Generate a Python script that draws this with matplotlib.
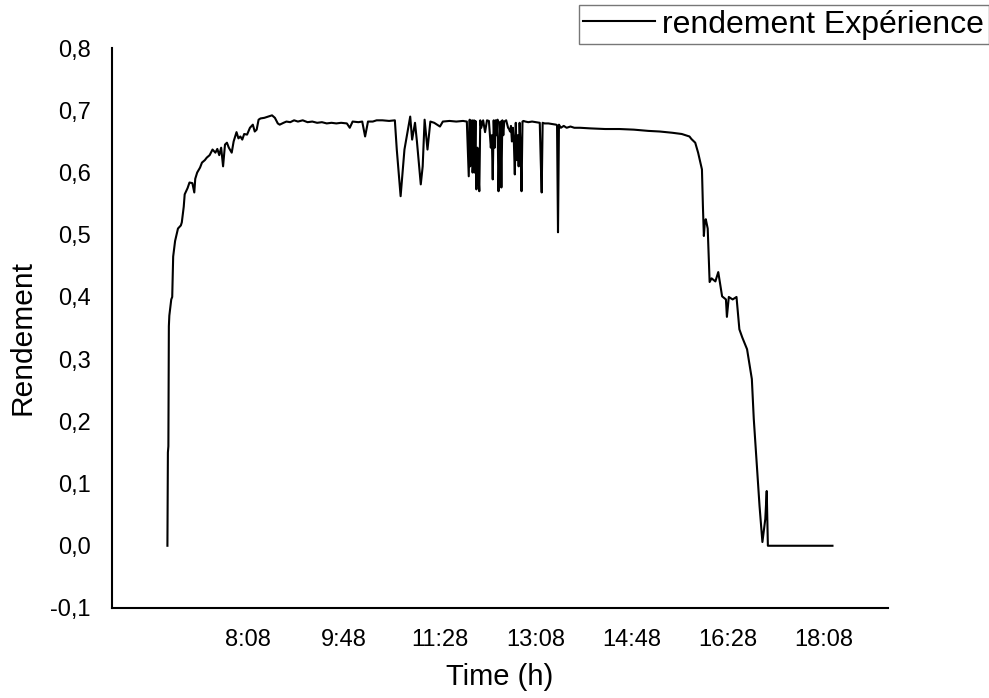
import matplotlib
matplotlib.use("Agg")
import matplotlib.pyplot as plt
from matplotlib.ticker import FuncFormatter

plt.rcParams["font.family"] = ["Liberation Sans", "DejaVu Sans"]

# (minutes since midnight, efficiency), by stretch of day
morning_rise = [
    (404, 0.000), (404.5, 0.150), (405, 0.160), (405.5, 0.353), (406, 0.370),
    (408, 0.396), (409, 0.400), (410, 0.465), (412, 0.490), (415, 0.510),
    (418, 0.515), (419, 0.520), (421, 0.545), (422, 0.565), (425, 0.575),
    (427, 0.584), (430, 0.583), (432, 0.568), (433, 0.590), (435, 0.600),
    (438, 0.608), (440, 0.616), (443, 0.620), (445, 0.624), (448, 0.628),
    (451, 0.637), (454, 0.632), (456, 0.638), (458, 0.628), (460, 0.640),
    (462, 0.610), (464, 0.645), (466, 0.648), (468, 0.640), (471, 0.632),
    (473, 0.650), (476, 0.665), (478, 0.655), (480, 0.658), (482, 0.653),
    (484, 0.662), (487, 0.661), (490, 0.672), (493, 0.677), (495, 0.666),
    (497, 0.669), (499, 0.685), (501, 0.687), (505, 0.688), (509, 0.690),
    (513, 0.692), (516, 0.688), (519, 0.679),
]
plateau = [
    (521, 0.677), (525, 0.680), (528, 0.682), (532, 0.681), (536, 0.684),
    (540, 0.682), (545, 0.684), (550, 0.681), (555, 0.682), (560, 0.680),
    (565, 0.681), (570, 0.679), (575, 0.680), (580, 0.679), (585, 0.680),
    (591, 0.679), (594, 0.672), (597, 0.682), (603, 0.681), (607, 0.682),
    (610, 0.658), (613, 0.682), (618, 0.682), (622, 0.684), (628, 0.684),
    (635, 0.683), (641, 0.684),
]
cloudy_spikes = [
    (643, 0.637), (647, 0.562), (651, 0.637), (657, 0.690), (659, 0.653),
    (662, 0.680), (664, 0.650), (668, 0.581), (670, 0.610), (672, 0.685),
    (675, 0.637), (678, 0.682), (682, 0.680), (688, 0.674), (691, 0.682),
    (698, 0.683), (705, 0.682), (712, 0.683), (716, 0.682),
    (718, 0.594), (719, 0.685), (719.5, 0.610), (720, 0.680), (721, 0.620),
    (721.5, 0.684), (722, 0.600), (723, 0.632), (723.5, 0.684), (724, 0.600),
    (725, 0.683), (725.5, 0.610), (726, 0.573), (727, 0.640), (727.5, 0.580),
    (728, 0.600), (729, 0.570), (730, 0.684), (731, 0.672), (733, 0.684),
    (735, 0.665), (737, 0.684), (739, 0.683), (741, 0.640), (742, 0.660),
    (743, 0.589), (744, 0.684), (745, 0.640), (746, 0.684), (747, 0.660),
    (748, 0.685), (749, 0.570), (750, 0.640), (751, 0.682), (752, 0.576),
    (753, 0.684), (754, 0.660), (755, 0.682), (757, 0.684), (759, 0.672),
    (760, 0.670), (761, 0.666), (762, 0.675), (763, 0.650), (764, 0.672),
    (765, 0.650), (766, 0.597), (767, 0.680), (768, 0.620), (769, 0.660),
    (770, 0.610), (771, 0.680), (772, 0.640), (773, 0.570), (774, 0.682),
    (775, 0.683), (777, 0.682), (780, 0.681), (784, 0.682), (788, 0.681),
    (792, 0.680), (793, 0.620), (794, 0.568), (795, 0.680), (797, 0.679),
    (801, 0.679), (805, 0.678), (809, 0.677), (810, 0.676), (811, 0.504),
    (812, 0.677), (814, 0.672), (817, 0.675), (820, 0.672), (824, 0.674),
    (828, 0.672), (834, 0.672),
]
evening_fall = [
    (845, 0.671), (860, 0.670), (875, 0.670), (890, 0.669), (905, 0.667),
    (917, 0.666), (930, 0.664), (940, 0.662), (948, 0.658), (950, 0.654),
    (954, 0.648), (957, 0.632), (961, 0.605), (962, 0.546), (963, 0.498),
    (964, 0.520), (965, 0.525), (967, 0.510), (969, 0.424), (971, 0.430),
    (975, 0.425), (978, 0.440), (982, 0.401), (986, 0.396), (987, 0.368),
    (989, 0.400), (993, 0.396), (997, 0.400), (1000, 0.348), (1003, 0.335),
    (1008, 0.316), (1013, 0.268), (1015, 0.204), (1018, 0.135), (1021, 0.064),
    (1024, 0.006), (1027, 0.043), (1028.5, 0.088), (1029.7, 0.000),
    (1097, 0.000),
]

xtick_min = [488, 588, 688, 788, 888, 988, 1088]
xtick_labels = ["8:08", "9:48", "11:28", "13:08", "14:48", "16:28", "18:08"]
ytick_vals = [-0.1, 0.0, 0.1, 0.2, 0.3, 0.4, 0.5, 0.6, 0.7, 0.8]

readings = morning_rise + plateau + cloudy_spikes + evening_fall
time_min = [t for t, _ in readings]
rendement = [r for _, r in readings]

fig = plt.figure(figsize=(9.89, 6.98), dpi=100)
ax = fig.add_axes([0.113, 0.129, 0.785, 0.802])

ax.plot(time_min, rendement, color="black", lw=1.5, label="rendement Expérience")

ax.set_xlim(346, 1155)
ax.set_ylim(-0.1, 0.8)
ax.set_xticks(xtick_min)
ax.set_xticklabels(xtick_labels)
ax.set_yticks(ytick_vals)
ax.yaxis.set_major_formatter(FuncFormatter(lambda v, p: f"{v:.1f}".replace(".", ",")))
ax.tick_params(length=0, labelsize=17, pad=15)

for s in ["top", "right"]:
    ax.spines[s].set_visible(False)
for s in ["left", "bottom"]:
    ax.spines[s].set_linewidth(1.5)

ax.set_xlabel("Time (h)", fontsize=21, labelpad=9)
ax.set_ylabel("Rendement", fontsize=21.5)
ax.yaxis.set_label_coords(-0.097, 0.484)

leg = fig.legend(loc="upper right", bbox_to_anchor=(1.0, 0.993), fontsize=23,
                 frameon=True, fancybox=False, edgecolor="#555555",
                 handlelength=2.25, borderpad=0.15, handletextpad=0.22,
                 borderaxespad=0.0)
leg.get_frame().set_linewidth(1.0)

fig.savefig("out.png", dpi=100)
